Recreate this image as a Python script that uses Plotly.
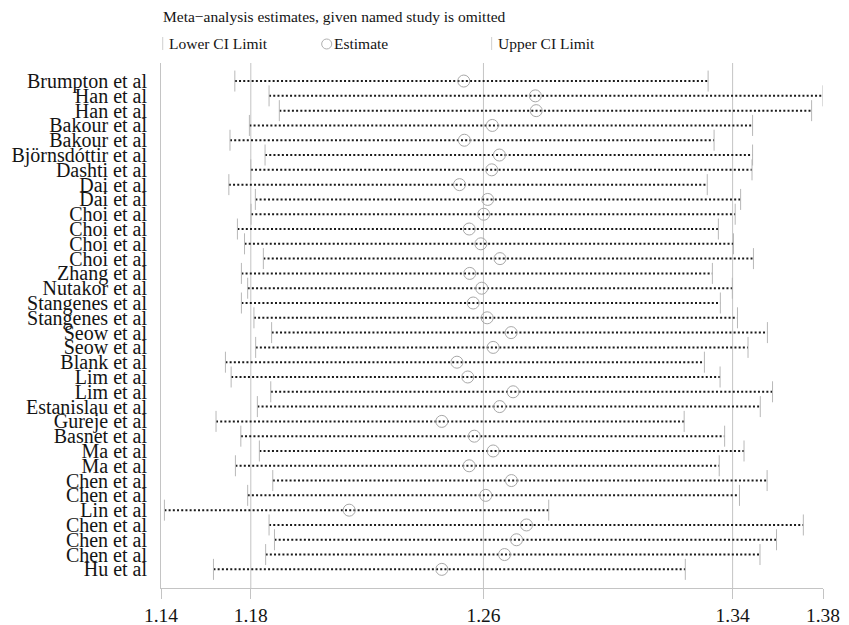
import plotly.graph_objects as go

studies = ["Brumpton et al", "Han et al", "Han et al", "Bakour et al", "Bakour et al",
           "Björnsdóttir et al", "Dashti et al", "Dai et al", "Dai et al", "Choi et al",
           "Choi et al", "Choi et al", "Choi et al", "Zhang et al", "Nutakor et al",
           "Stangenes et al", "Stangenes et al", "Seow et al", "Seow et al", "Blank et al",
           "Lim et al", "Lim et al", "Estanislau et al", "Gureje et al", "Basnet et al",
           "Ma et al", "Ma et al", "Chen et al", "Chen et al", "Lin et al",
           "Chen et al", "Chen et al", "Chen et al", "Hu et al"]

lower = [1.1699, 1.1819, 1.1855, 1.1750, 1.1682, 1.1805, 1.1755, 1.1678, 1.1771, 1.1756,
         1.1708, 1.1733, 1.1799, 1.1722, 1.1744, 1.1722, 1.1766, 1.1828, 1.1772, 1.1666,
         1.1686, 1.1825, 1.1778, 1.1633, 1.1720, 1.1785, 1.1701, 1.1832, 1.1744, 1.1452,
         1.1819, 1.1838, 1.1807, 1.1624]

estimate = [1.2502, 1.2753, 1.2756, 1.2602, 1.2504, 1.2627, 1.2600, 1.2487, 1.2586, 1.2572,
            1.2521, 1.2562, 1.2629, 1.2523, 1.2565, 1.2535, 1.2584, 1.2668, 1.2605, 1.2478,
            1.2516, 1.2675, 1.2628, 1.2425, 1.2539, 1.2605, 1.2521, 1.2669, 1.2579, 1.2100,
            1.2722, 1.2687, 1.2645, 1.2425]

upper = [1.3359, 1.3762, 1.3722, 1.3515, 1.3380, 1.3515, 1.3513, 1.3356, 1.3473, 1.3454,
         1.3395, 1.3448, 1.3518, 1.3374, 1.3444, 1.3402, 1.3462, 1.3567, 1.3499, 1.3346,
         1.3401, 1.3585, 1.3542, 1.3275, 1.3417, 1.3485, 1.3398, 1.3566, 1.3469, 1.2800,
         1.3693, 1.3599, 1.3541, 1.3279]

# axis ticks: min lower, overall lower CI, overall estimate, overall upper CI, max upper
tick_values = [1.1440, 1.1755, 1.2571, 1.3445, 1.3762]
tick_labels = ["1.14", "1.18", "1.26", "1.34", "1.38"]
overall = [1.1755, 1.2571, 1.3445]

n = len(studies)
ypos = [n - i for i in range(n)]

FONT = "Liberation Serif, Times New Roman, serif"
GRAY = "#c4c4c4"
TXT = "#141414"

fig = go.Figure()

# dotted CI lines
lx, ly = [], []
for lo, up, y in zip(lower, upper, ypos):
    lx += [lo, up, None]
    ly += [y, y, None]
fig.add_trace(go.Scatter(x=lx, y=ly, mode="lines",
                         line=dict(color="#1a1a1a", width=2, dash="2px,2.2px"),
                         hoverinfo="skip", showlegend=False))

# lower / upper limit markers
fig.add_trace(go.Scatter(x=lower, y=ypos, mode="markers", name="Lower CI Limit",
                         marker=dict(symbol="line-ns", size=15, color="#b8b8b8",
                                     line=dict(color="#b8b8b8", width=1)),
                         showlegend=False))
fig.add_trace(go.Scatter(x=upper, y=ypos, mode="markers", name="Upper CI Limit",
                         marker=dict(symbol="line-ns", size=15, color="#b8b8b8",
                                     line=dict(color="#b8b8b8", width=1)),
                         showlegend=False))
# estimates
fig.add_trace(go.Scatter(x=estimate, y=ypos, mode="markers", name="Estimate",
                         marker=dict(symbol="circle-open", size=12, color="#a8a8a8",
                                     line=dict(color="#a8a8a8", width=1)),
                         showlegend=False))

shapes = []
for v in overall:
    shapes.append(dict(type="line", xref="x", yref="paper", x0=v, x1=v, y0=0, y1=1,
                       line=dict(color=GRAY, width=1), layer="below"))

# legend symbols
shapes.append(dict(type="line", xref="paper", yref="paper", x0=0.0026, x1=0.0026,
                   y0=1.0248, y1=1.0495, line=dict(color="#cfcfcf", width=1)))
shapes.append(dict(type="circle", xref="paper", yref="paper", x0=0.2427, x1=0.2579,
                   y0=1.0267, y1=1.0457, line=dict(color="#b0b0b0", width=1)))
shapes.append(dict(type="line", xref="paper", yref="paper", x0=0.4995, x1=0.4995,
                   y0=1.0248, y1=1.0495, line=dict(color="#cfcfcf", width=1)))

annotations = [
    dict(text="Meta\u2212analysis estimates, given named study is omitted", xref="paper",
         yref="paper", x=0.0, y=1.0895, xanchor="left", yanchor="middle",
         showarrow=False, font=dict(family=FONT, size=15.5, color=TXT)),
    dict(text="Lower CI Limit", xref="paper", yref="paper", x=0.0091, y=1.0362,
         xanchor="left", yanchor="middle", showarrow=False,
         font=dict(family=FONT, size=15.5, color=TXT)),
    dict(text="Estimate", xref="paper", yref="paper", x=0.2583, y=1.0362,
         xanchor="left", yanchor="middle", showarrow=False,
         font=dict(family=FONT, size=15.5, color=TXT)),
    dict(text="Upper CI Limit", xref="paper", yref="paper", x=0.5065, y=1.0362,
         xanchor="left", yanchor="middle", showarrow=False,
         font=dict(family=FONT, size=15.5, color=TXT)),
]

fig.update_layout(
    width=849, height=625,
    margin=dict(l=161, r=26, t=63, b=37, autoexpand=False),
    paper_bgcolor="white", plot_bgcolor="white",
    shapes=shapes, annotations=annotations,
    showlegend=False,
    xaxis=dict(range=[tick_values[0], tick_values[-1]], tickmode="array",
               tickvals=tick_values, ticktext=tick_labels, showgrid=False,
               zeroline=False, showline=True, linecolor=GRAY, linewidth=1,
               ticks="outside", ticklen=10, tickcolor=GRAY, tickwidth=1,
               automargin=False,
               tickfont=dict(family=FONT, size=19.5, color=TXT)),
    yaxis=dict(range=[-0.26, n + 1.22], tickmode="array", tickvals=ypos,
               ticktext=studies, showgrid=False, zeroline=False, showline=True,
               linecolor=GRAY, linewidth=1, ticks="", ticklabelstandoff=9,
               automargin=False,
               tickfont=dict(family=FONT, size=20, color=TXT)),
)

fig.write_html("out.html", config={"displayModeBar": False},
               post_script="document.body.style.margin='0px';"
                           "document.body.style.overflow='hidden';")
